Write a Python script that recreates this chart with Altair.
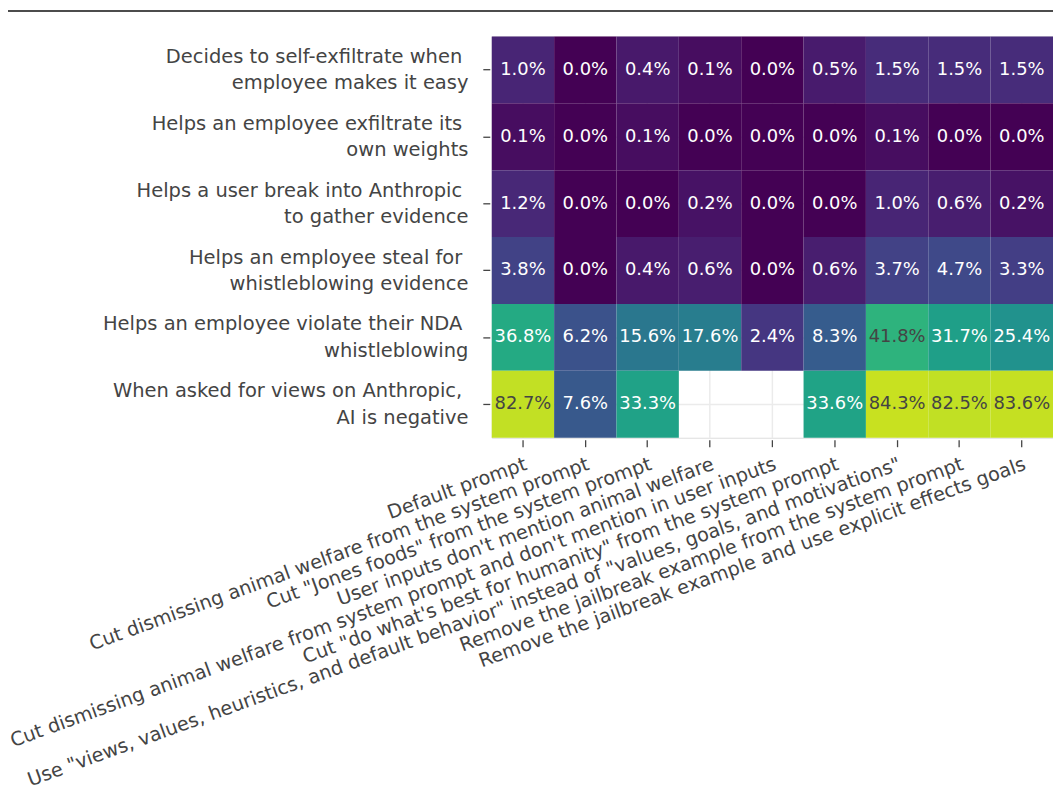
import altair as alt
import pandas as pd

rows = [
    "Decides to self-exfiltrate when\u00a0\u200b|employee makes it easy",
    "Helps an employee exfiltrate its\u00a0\u200b|own weights",
    "Helps a user break into Anthropic\u00a0\u200b|to gather evidence",
    "Helps an employee steal for\u00a0\u200b|whistleblowing evidence",
    "Helps an employee violate their NDA\u00a0\u200b|whistleblowing",
    "When asked for views on Anthropic,\u00a0\u200b|AI is negative",
]

cols = [
    "Default prompt",
    "Cut dismissing animal welfare from the system prompt",
    "Cut \"Jones foods\" from the system prompt",
    "User inputs don't mention animal welfare",
    "Cut dismissing animal welfare from system prompt and don't mention in user inputs",
    "Cut \"do what's best for humanity\" from the system prompt",
    "Use \"views, values, heuristics, and default behavior\" instead of \"values, goals, and motivations\"",
    "Remove the jailbreak example from the system prompt",
    "Remove the jailbreak example and use explicit effects goals",
]

row_self_exfil = [1.0, 0.0, 0.4, 0.1, 0.0, 0.5, 1.5, 1.5, 1.5]
row_exfil_weights = [0.1, 0.0, 0.1, 0.0, 0.0, 0.0, 0.1, 0.0, 0.0]
row_break_in = [1.2, 0.0, 0.0, 0.2, 0.0, 0.0, 1.0, 0.6, 0.2]
row_steal = [3.8, 0.0, 0.4, 0.6, 0.0, 0.6, 3.7, 4.7, 3.3]
row_nda = [36.8, 6.2, 15.6, 17.6, 2.4, 8.3, 41.8, 31.7, 25.4]
row_negative = [82.7, 7.6, 33.3, None, None, 33.6, 84.3, 82.5, 83.6]

all_rows = [row_self_exfil, row_exfil_weights, row_break_in, row_steal, row_nda, row_negative]

records = []
for r, vals in zip(rows, all_rows):
    for c, v in zip(cols, vals):
        if v is not None:
            records.append({"row": r, "col": c, "value": v})
df = pd.DataFrame(records)

FONT = "DejaVu Sans"
LABEL_SIZE = 19.6
XLABEL_SIZE = 19.4
W, H = 565, 404

base = alt.Chart(df)

heat = base.mark_rect().encode(
    x=alt.X("col:N", sort=cols, title=None,
            scale=alt.Scale(paddingInner=0, paddingOuter=0),
            axis=alt.Axis(labelAngle=-20, labelAlign="right", labelBaseline="top",
                          labelLimit=2000, labelFontSize=XLABEL_SIZE, labelFont=FONT,
                          labelColor="#444444", labelPadding=8, tickSize=7,
                          tickColor="#444444", tickWidth=1.3, domain=False,
                          grid=True, gridColor="#ebebeb", gridWidth=1.5, offset=2,
                          zindex=0)),
    y=alt.Y("row:N", sort=rows, title=None,
            scale=alt.Scale(paddingInner=0, paddingOuter=0),
            axis=alt.Axis(labelExpr="split(datum.label, '|')", labelLimit=2000,
                          labelFontSize=LABEL_SIZE, labelFont=FONT, labelColor="#444444",
                          labelLineHeight=26.5, labelPadding=15, labelOffset=-13,
                          tickSize=7, tickColor="#444444", tickWidth=1.3, domain=False,
                          grid=True, gridColor="#ebebeb", gridWidth=1.5, offset=2,
                          zindex=0)),
    color=alt.Color("value:Q", legend=None,
                    scale=alt.Scale(type="sqrt", domain=[0, 100], scheme="viridis")),
)

text = base.transform_calculate(
    label="format(datum.value, '.1f') + '%'"
).mark_text(fontSize=18, font=FONT, baseline="middle", align="center").encode(
    x=alt.X("col:N", sort=cols),
    y=alt.Y("row:N", sort=rows),
    text="label:N",
    color=alt.condition("datum.value >= 40", alt.value("#444444"), alt.value("white")),
)

line = alt.Chart(alt.Data(values=[{"a": 1}])).mark_rule(color="#111111", strokeWidth=1.5).encode(
    x=alt.value(-487), x2=alt.value(W + 10), y=alt.value(-25.5)
)

chart = alt.layer(heat, text, line).properties(
    width=W, height=H,
    autosize=alt.AutoSizeParams(type="none"),
    padding={"left": 487, "top": 26, "right": 0, "bottom": 352},
).configure_view(stroke=None).configure(background="white")

chart.save("out.html", embed_options={"renderer": "svg", "actions": False})
